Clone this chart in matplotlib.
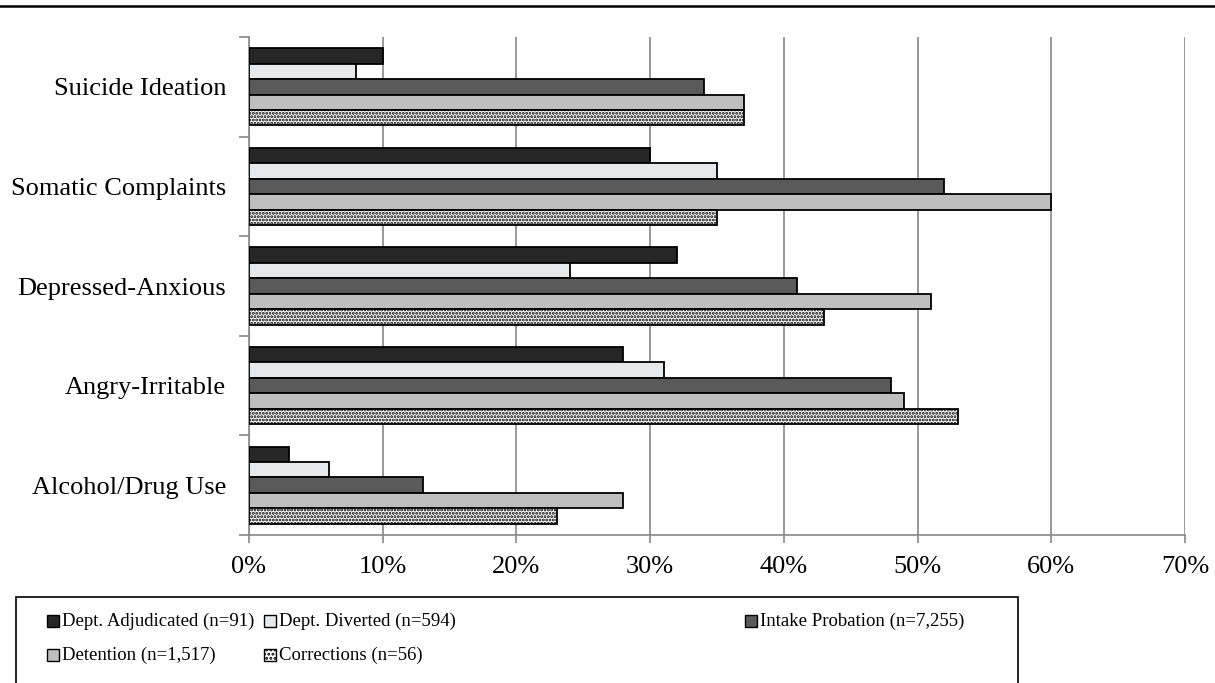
import matplotlib
matplotlib.use("Agg")
import matplotlib.pyplot as plt
from matplotlib.patches import Rectangle
from matplotlib.lines import Line2D
import numpy as np

plt.rcParams['font.family'] = ['Liberation Serif', 'DejaVu Serif']
plt.rcParams['hatch.linewidth'] = 1.4

categories = ["Suicide Ideation", "Somatic Complaints", "Depressed-Anxious",
              "Angry-Irritable", "Alcohol/Drug Use"]
series_names = ["Dept. Adjudicated (n=91)", "Dept. Diverted (n=594)",
                "Intake Probation (n=7,255)", "Detention (n=1,517)",
                "Corrections (n=56)"]
dept_adjudicated = [10, 30, 32, 28, 3]
dept_diverted = [8, 35, 24, 31, 6]
intake_probation = [34, 52, 41, 48, 13]
detention = [37, 60, 51, 49, 28]
corrections = [37, 35, 43, 53, 23]
xticks = [0, 10, 20, 30, 40, 50, 60, 70]
xtick_labels = ["0%", "10%", "20%", "30%", "40%", "50%", "60%", "70%"]

series = [dept_adjudicated, dept_diverted, intake_probation, detention, corrections]
faces = ["#262626", "#e6e9ec", "#5a5a5a", "#bfbfbf", "white"]
hatches = [None, None, None, None, "....."]

fig = plt.figure(figsize=(12.15, 6.83), dpi=100)
ax = fig.add_axes([249/1215, 1 - 535/683, (1185-249)/1215, (535-37)/683])

n_cat = len(categories)
centers = np.arange(n_cat)[::-1].astype(float)
bh = 0.155
for si, vals in enumerate(series):
    offset = (2 - si) * bh
    ax.barh(centers + offset, vals, height=bh, color=faces[si],
            edgecolor="black", linewidth=1.3, hatch=hatches[si], zorder=3)

ax.set_xlim(0, 70)
ax.set_ylim(-0.5, n_cat - 0.5)
ax.set_xticks(xticks)
ax.set_xticklabels(xtick_labels, fontsize=19)
ax.set_yticks(centers)
ax.set_yticklabels(categories, fontsize=19)
ax.set_yticks(np.arange(n_cat + 1) - 0.5, minor=True)
ax.tick_params(axis='y', which='major', length=0, pad=16.5)
ax.tick_params(axis='y', which='minor', length=7, width=1.2, color="#888888", direction='out')
ax.tick_params(axis='x', which='major', length=6, width=1.2, color="#888888", pad=9)

ax.grid(axis='x', color="#888888", linewidth=1.2, zorder=0)
ax.set_axisbelow(True)
for s in ["top", "right"]:
    ax.spines[s].set_visible(False)
for s in ["left", "bottom"]:
    ax.spines[s].set_color("#888888")
    ax.spines[s].set_linewidth(1.2)

# top rule
fig.add_artist(Line2D([0, 1], [1 - 6/683, 1 - 6/683], color="black", linewidth=1.8))

# legend box
W, H = 1215, 683
fig.add_artist(Rectangle((16/W, -0.02), (1018-16)/W, (0.02 + 1 - 597/H),
                         transform=fig.transFigure, facecolor="white",
                         edgecolor="black", linewidth=1.2))
leg_pos = [(47, 621), (264, 621), (745, 621), (47, 655), (264, 655)]
for si, (lx, ly) in enumerate(leg_pos):
    sq = 12
    fig.add_artist(Rectangle((lx/W, 1 - (ly + sq/2)/H), sq/W, sq/H,
                             transform=fig.transFigure, facecolor=faces[si],
                             edgecolor="black", linewidth=1.0,
                             hatch=("...." if hatches[si] else None)))
    fig.text((lx + sq + 3)/W, 1 - ly/H, series_names[si], fontsize=13.5,
             ha="left", va="center")

fig.savefig("out.png", dpi=100)
